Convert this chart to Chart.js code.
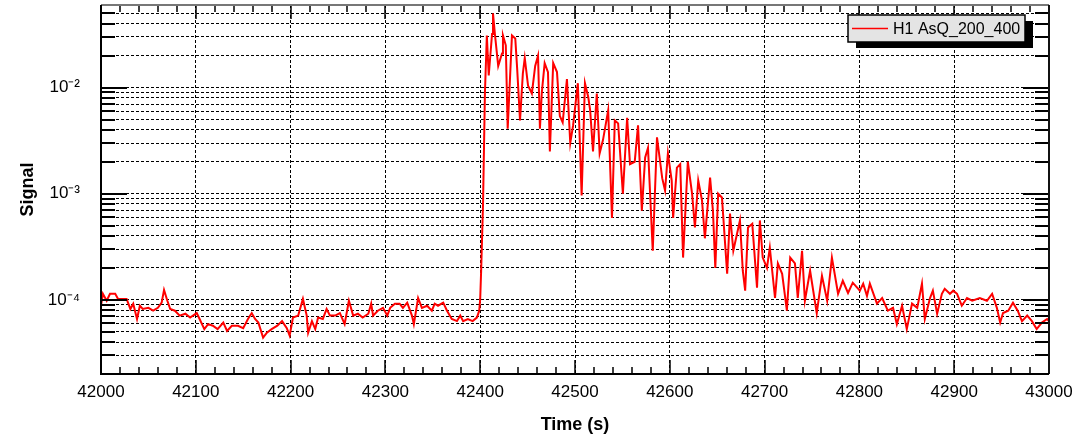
<!DOCTYPE html>
<html>
<head>
<meta charset="utf-8">
<script src="https://cdn.jsdelivr.net/npm/chart.js@4.4.1/dist/chart.umd.min.js"></script>
<style>
  html, body { margin: 0; padding: 0; background: #fff; }
  canvas { display: block; }
</style>
</head>
<body>
<canvas id="signalChart" width="1079" height="436"></canvas>
<script>
// time stamps (s) and signal values
const times = [
  42000, 42002, 42006, 42009.5, 42015, 42018, 42023, 42027, 42031, 42034,
  42038, 42041, 42044, 42050, 42055, 42060, 42064, 42066.5, 42070, 42073,
  42078, 42083, 42089, 42094, 42101, 42104, 42109, 42113, 42118, 42123,
  42129, 42133, 42138, 42144.5, 42150, 42155, 42159, 42162.5, 42166, 42171,
  42175, 42180, 42186, 42191, 42196, 42199, 42202.5, 42208, 42213, 42217,
  42218.5, 42222.5, 42226, 42229, 42234, 42238, 42241.5, 42247, 42252, 42257,
  42261.5, 42266, 42271, 42276, 42282, 42285, 42287, 42292, 42297.5, 42302,
  42305, 42310, 42315, 42318.5, 42323, 42328, 42330, 42334.5, 42338.5, 42344,
  42349, 42352, 42355.5, 42361, 42365, 42370, 42375.5, 42379, 42382, 42387,
  42392, 42396.5, 42399, 42400, 42401, 42403, 42405, 42407, 42409, 42412.5,
  42413.5, 42415.5, 42419, 42423, 42424, 42427, 42429, 42433.5, 42437, 42439,
  42442, 42445, 42447, 42450.5, 42454.5, 42458, 42461, 42463, 42465, 42468,
  42471.5, 42473.5, 42477, 42481, 42484, 42487, 42491.5, 42495, 42498, 42503,
  42507, 42510.5, 42514, 42516, 42519, 42523, 42526, 42529.5, 42535, 42539,
  42542, 42545.5, 42550.5, 42555, 42558, 42563, 42566.5, 42570.5, 42574, 42577,
  42582, 42586.5, 42592, 42595, 42598, 42602, 42603.5, 42607.5, 42611, 42614,
  42619, 42623.5, 42626.5, 42630, 42634, 42637, 42642.5, 42645.5, 42648, 42651,
  42655, 42660.5, 42663.5, 42667, 42674, 42677, 42679.5, 42682.5, 42687, 42692,
  42695, 42698, 42702.5, 42705.5, 42711, 42714, 42718.5, 42723.5, 42727, 42732,
  42735, 42739.5, 42742.5, 42748, 42755, 42760.5, 42766, 42771, 42777.5, 42782.5,
  42788, 42793, 42800.5, 42804, 42808, 42811, 42818.5, 42824, 42830, 42835.5,
  42839.5, 42845, 42850, 42855.5, 42861, 42866, 42869, 42874.5, 42877.5, 42882,
  42887, 42890, 42895.5, 42899, 42903, 42908, 42913.5, 42919, 42927, 42934.5,
  42940, 42945, 42948.5, 42951.5, 42957, 42962, 42967, 42971.5, 42977, 42982,
  42987, 42992.5, 42998, 43000
];
const signal = [
  8.8e-5, 1.14e-4, 9.8e-5, 1.14e-4, 1.14e-4, 1.02e-4, 1.02e-4, 1.02e-4, 8.2e-5, 9.2e-5,
  6.6e-5, 8.8e-5, 8.2e-5, 8.4e-5, 7.9e-5, 8.4e-5, 9.4e-5, 1.24e-4, 9.8e-5, 8.2e-5,
  7.9e-5, 7.1e-5, 7.4e-5, 6.8e-5, 7.5e-5, 6.6e-5, 5.3e-5, 5.9e-5, 5.7e-5, 5.3e-5,
  6.1e-5, 5.1e-5, 5.7e-5, 5.7e-5, 5.4e-5, 6.6e-5, 7.5e-5, 6.6e-5, 6.1e-5, 4.4e-5,
  4.9e-5, 5.3e-5, 5.7e-5, 6.3e-5, 5.4e-5, 4.6e-5, 6.8e-5, 7.1e-5, 1.02e-4, 7.1e-5,
  4.9e-5, 6.3e-5, 5.3e-5, 6.8e-5, 6.6e-5, 8.2e-5, 7.1e-5, 7.1e-5, 7.5e-5, 5.9e-5,
  9.8e-5, 7.1e-5, 7.4e-5, 6.8e-5, 7.4e-5, 9.2e-5, 7.1e-5, 7.9e-5, 8.4e-5, 7.1e-5,
  8.4e-5, 9.2e-5, 9.2e-5, 8.4e-5, 9.4e-5, 7.1e-5, 5.9e-5, 1.04e-4, 8.4e-5, 8.8e-5,
  7.9e-5, 9.2e-5, 8.8e-5, 9.4e-5, 7.9e-5, 6.6e-5, 6.3e-5, 7.1e-5, 6.3e-5, 6.6e-5,
  6.3e-5, 6.8e-5, 7.9e-5, 1.02e-4, 1.88e-4, 8.1e-4, 9.0e-3, 3.1e-2, 1.3e-2, 3.2e-2,
  5.0e-2, 3.2e-2, 1.6e-2, 2.1e-2, 3.1e-2, 2.5e-2, 4.1e-3, 3.1e-2, 2.9e-2, 1.5e-2,
  4.9e-3, 1.36e-2, 1.9e-2, 1.04e-2, 8.8e-3, 1.6e-2, 2.0e-2, 4.1e-3, 9.0e-3, 1.7e-2,
  1.4e-2, 2.5e-3, 1.7e-2, 1.4e-2, 5.4e-3, 4.7e-3, 1.2e-2, 3.0e-3, 4.4e-3, 1.1e-2,
  9.6e-4, 1.1e-2, 8.1e-3, 6.1e-3, 2.5e-3, 8.8e-3, 2.4e-3, 3.2e-3, 6.1e-3, 5.9e-4,
  4.9e-3, 4.6e-3, 1.0e-3, 5.2e-3, 1.9e-3, 2.0e-3, 4.4e-3, 6.9e-4, 2.2e-3, 2.7e-3,
  2.9e-4, 3.4e-3, 1.4e-3, 1.07e-3, 2.4e-3, 1.33e-3, 5.9e-4, 1.76e-3, 1.9e-3, 2.5e-4,
  2.0e-3, 1.0e-3, 4.8e-4, 1.33e-3, 8.6e-4, 3.8e-4, 1.42e-3, 6.9e-4, 2.0e-4, 1.0e-3,
  9.2e-4, 1.76e-4, 6.5e-4, 2.9e-4, 5.6e-4, 1.88e-4, 1.22e-4, 4.8e-4, 5.2e-4, 1.3e-4,
  5.6e-4, 2.5e-4, 2.0e-4, 3.1e-4, 1.04e-4, 2.2e-4, 1.76e-4, 7.9e-5, 2.5e-4, 2.2e-4,
  1.04e-4, 2.9e-4, 9.8e-5, 1.88e-4, 7.5e-5, 1.68e-4, 9.8e-5, 2.5e-4, 1.14e-4, 1.51e-4,
  1.16e-4, 1.45e-4, 1.22e-4, 1.42e-4, 1.09e-4, 1.42e-4, 9.2e-5, 1.04e-4, 7.9e-5, 8.4e-5,
  5.9e-5, 8.8e-5, 5.3e-5, 9.2e-5, 8.4e-5, 1.42e-4, 6.6e-5, 1.04e-4, 1.22e-4, 7.4e-5,
  1.14e-4, 1.27e-4, 1.14e-4, 1.22e-4, 1.14e-4, 8.8e-5, 1.04e-4, 9.8e-5, 1.04e-4, 9.8e-5,
  1.14e-4, 8.4e-5, 6.1e-5, 7.5e-5, 7.9e-5, 9.4e-5, 7.9e-5, 6.3e-5, 7.1e-5, 6.3e-5,
  5.3e-5, 6.1e-5, 6.6e-5, 6.3e-5
];

const yDecades = [1e-4, 1e-3, 1e-2];
const yDecadeLabels = ['10\u207B\u2074', '10\u207B\u00B3', '10\u207B\u00B2'];

const FONT = 'Liberation Sans, Arial, Helvetica, sans-serif';

function decadeIndex(v) {
  return yDecades.findIndex(d => Math.abs(v / d - 1) < 1e-6);
}

// inward tick marks + frame, like the ROOT canvas
const rootFrame = {
  id: 'rootFrame',
  afterDraw(chart) {
    const { ctx, chartArea: a, scales: { x, y } } = chart;
    ctx.save();
    ctx.strokeStyle = '#000';
    ctx.lineWidth = 1.5;
    ctx.beginPath();
    x.ticks.forEach(t => {
      const px = Math.round(x.getPixelForValue(t.value));
      const len = t.value % 100 === 0 ? 14 : 7;
      ctx.moveTo(px, a.bottom); ctx.lineTo(px, a.bottom - len);
      ctx.moveTo(px, a.top); ctx.lineTo(px, a.top + len);
    });
    ctx.stroke();
    ctx.lineWidth = 2;
    ctx.beginPath();
    y.ticks.forEach(t => {
      const py = Math.round(y.getPixelForValue(t.value));
      const len = decadeIndex(t.value) >= 0 ? 26 : 14;
      ctx.moveTo(a.left, py); ctx.lineTo(a.left + len, py);
      ctx.moveTo(a.right, py); ctx.lineTo(a.right - len, py);
    });
    ctx.stroke();

    ctx.lineWidth = 2;
    ctx.strokeStyle = '#777';
    ctx.beginPath();
    ctx.moveTo(a.left, a.top); ctx.lineTo(a.right, a.top);
    ctx.stroke();
    ctx.strokeStyle = '#111';
    ctx.beginPath();
    ctx.moveTo(a.right, a.top); ctx.lineTo(a.right, a.bottom);
    ctx.stroke();
    ctx.strokeStyle = '#000';
    ctx.beginPath();
    ctx.moveTo(a.left, a.top); ctx.lineTo(a.left, a.bottom); ctx.lineTo(a.right, a.bottom);
    ctx.stroke();
    ctx.restore();
  }
};

// boxed legend with drop shadow inside the plot
const legendBox = {
  id: 'legendBox',
  afterDraw(chart) {
    const { ctx, chartArea: a } = chart;
    const ds = chart.data.datasets[0];
    const w = 177, h = 27;
    const bx = a.right - 24 - w, by = a.top + 10;
    ctx.save();
    ctx.fillStyle = '#000';
    ctx.fillRect(bx + 8, by + 6, w, h);
    ctx.fillStyle = '#e4e4e4';
    ctx.fillRect(bx, by, w, h);
    ctx.strokeStyle = '#000';
    ctx.lineWidth = 1.5;
    ctx.strokeRect(bx, by, w, h);
    ctx.strokeStyle = ds.borderColor;
    ctx.lineWidth = 1.5;
    ctx.beginPath();
    ctx.moveTo(bx + 4, by + h / 2); ctx.lineTo(bx + 40, by + h / 2);
    ctx.stroke();
    ctx.fillStyle = '#000';
    ctx.font = '16px ' + FONT;
    ctx.textBaseline = 'middle';
    ctx.fillText(ds.label, bx + 45, by + h / 2 + 1);
    ctx.restore();
  }
};

const ctx = document.getElementById('signalChart').getContext('2d');
new Chart(ctx, {
  type: 'line',
  data: {
    datasets: [{
      label: 'H1 AsQ_200_400',
      data: times.map((t, i) => ({ x: t, y: signal[i] })),
      borderColor: '#ff0000',
      borderWidth: 2,
      pointRadius: 0,
      tension: 0,
      fill: false
    }]
  },
  options: {
    responsive: false,
    animation: false,
    layout: { padding: { top: 5, right: 30, left: 0, bottom: 0 } },
    plugins: {
      legend: { display: false },
      tooltip: { enabled: false }
    },
    scales: {
      x: {
        type: 'linear',
        min: 42000,
        max: 43000,
        ticks: {
          stepSize: 20,
          autoSkip: false,
          maxRotation: 0,
          padding: 8,
          color: '#000',
          font: { family: FONT, size: 17 },
          callback: v => (v % 100 === 0 ? String(v) : '')
        },
        grid: {
          drawTicks: false,
          lineWidth: 1,
          color: c => (c.tick && c.tick.value % 100 === 0 ? '#000' : 'rgba(0,0,0,0)')
        },
        border: { display: false, dash: [3, 2] },
        title: {
          display: true,
          text: 'Time (s)',
          color: '#000',
          font: { family: FONT, size: 18, weight: 'bold', lineHeight: 1 },
          padding: { top: 0, bottom: 2 }
        },
        afterFit: s => { s.height = 62; s.paddingLeft = 0; s.paddingRight = 0; }
      },
      y: {
        type: 'logarithmic',
        min: 2e-5,
        max: 6e-2,
        afterBuildTicks: s => {
          const list = [];
          for (let e = -5; e <= -2; e++) {
            for (let m = 1; m <= 9; m++) {
              const v = m * Math.pow(10, e);
              if (v >= s.min * 0.999 && v <= s.max * 1.001) list.push({ value: v });
            }
          }
          s.ticks = list;
        },
        ticks: {
          autoSkip: false,
          padding: 21,
          color: '#000',
          font: { family: FONT, size: 17 },
          callback: v => {
            const i = decadeIndex(v);
            return i >= 0 ? yDecadeLabels[i] : '';
          }
        },
        grid: { drawTicks: false, lineWidth: 1, color: '#000' },
        border: { display: false, dash: [3, 2] },
        title: {
          display: true,
          text: 'Signal',
          color: '#000',
          font: { family: FONT, size: 18, weight: 'bold', lineHeight: 1 },
          padding: { top: 19, bottom: 0 }
        },
        afterFit: s => { s.width = 101; s.paddingTop = 0; s.paddingBottom = 0; }
      }
    }
  },
  plugins: [rootFrame, legendBox]
});
</script>
</body>
</html>
